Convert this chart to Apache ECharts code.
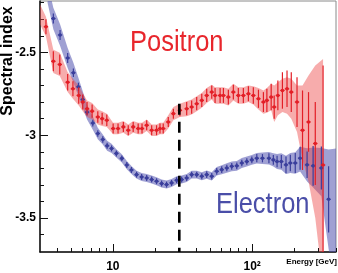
<!DOCTYPE html>
<html><head><meta charset="utf-8">
<script src="https://cdn.jsdelivr.net/npm/echarts@6/dist/echarts.min.js"></script>
<style>html,body{margin:0;padding:0;background:#fff}#c{width:338px;height:273px}</style>
</head><body><div id="c"></div>
<script>
// ---- Positron (red) ----
const rE=[3.31,3.74,4.16,4.74,5.17,5.69,6.08,6.53,7.10,7.80, 8.38,9.05,10.05,10.9,11.9,12.9,14.0,15.2,16.2,17.5, 19.0,20.6,21.8,23.0,25.0,27.2,30.3,33.9,36.8,40.0, 43.5,47.2,51.3,54.2,58.9,62.2,67.5,73.3,79.6,86.5, 94.0,102,111,120.5,127.6,137,144,153,165,178, 191,210,230,254,284,323];
const rV=[-2.345,-2.554,-2.573,-2.68,-2.72,-2.76,-2.80,-2.84,-2.855,-2.89, -2.90,-2.91,-2.96,-2.96,-2.95,-2.97,-2.95,-2.96,-2.96,-2.94, -2.97,-2.97,-2.96,-2.96,-2.92,-2.87,-2.85,-2.84,-2.83,-2.81, -2.79,-2.76,-2.74,-2.76,-2.76,-2.76,-2.77,-2.74,-2.76,-2.76, -2.75,-2.76,-2.78,-2.80,-2.79,-2.77,-2.83,-2.76,-2.73,-2.72, -2.74,-2.80,-2.97,-2.92,-3.05,-3.18];
const rErr=[0.045,0.06,0.06,0.05,0.045,0.05,0.045,0.04,0.04,0.035, 0.035,0.035,0.03,0.03,0.03,0.03,0.03,0.03,0.03,0.03, 0.03,0.03,0.03,0.03,0.03,0.03,0.035,0.04,0.04,0.04, 0.04,0.04,0.04,0.045,0.045,0.045,0.045,0.045,0.045,0.045, 0.045,0.05,0.055,0.06,0.07,0.08,0.07,0.09,0.11,0.11, 0.12,0.15,0.24,0.18,0.25,0.6];
const rUp=[0.06,0.07,0.07,0.06,0.06,0.06,0.055,0.05,0.05,0.045, 0.045,0.04,0.035,0.035,0.035,0.035,0.035,0.035,0.035,0.035, 0.035,0.035,0.035,0.035,0.04,0.04,0.04,0.045,0.045,0.045, 0.045,0.045,0.045,0.05,0.05,0.05,0.05,0.05,0.05,0.05, 0.05,0.055,0.065,0.07,0.075,0.08,0.13,0.08,0.07,0.07, 0.08,0.10,0.27,0.28,0.47,0.64];
const rDn=[0.06,0.07,0.07,0.06,0.06,0.06,0.055,0.05,0.05,0.045, 0.045,0.04,0.035,0.035,0.035,0.035,0.035,0.035,0.035,0.035, 0.035,0.035,0.035,0.035,0.04,0.04,0.04,0.045,0.045,0.045, 0.045,0.045,0.045,0.05,0.05,0.05,0.05,0.05,0.05,0.05, 0.05,0.055,0.065,0.07,0.075,0.08,0.09,0.12,0.13,0.15, 0.16,0.18,0.18,0.36,0.45,0.72];
// red band edge values at its low-energy start [E, upper, lower]
const rBandStart=[3.0,-2.21,-2.33];
// ---- Electron (blue) ----
const bE=[3.74,4.18,4.74,5.21,5.66,6.08,6.53,7.18,7.80,8.47, 9.10,9.79,10.6,11.6,12.6,13.6,14.8,16.1,17.5,19.0, 20.6,22.4,24.3,26.4,28.7,31.2,33.9,36.8,40.0,43.5, 47.2,51.3,55.7,60.5,65.8,71.4,77.6,84.3,91.6,99.5, 108,118.6,132,142,151,162,175,188,204,221, 248,274,314,354];
const bV=[-2.296,-2.395,-2.534,-2.623,-2.708,-2.785,-2.861,-2.927,-2.99,-3.026, -3.064,-3.08,-3.11,-3.14,-3.18,-3.21,-3.238,-3.252,-3.258,-3.268, -3.278,-3.292,-3.298,-3.288,-3.272,-3.268,-3.258,-3.238,-3.238,-3.248, -3.238,-3.248,-3.218,-3.208,-3.198,-3.188,-3.185,-3.168,-3.159,-3.149, -3.139,-3.139,-3.139,-3.149,-3.159,-3.159,-3.179,-3.168,-3.168,-3.139, -3.179,-3.185,-3.198,-3.387];
const bErr=[0.03,0.03,0.03,0.025,0.025,0.025,0.02,0.02,0.02,0.02, 0.018,0.018,0.018,0.018,0.018,0.018,0.018,0.018,0.018,0.018, 0.018,0.018,0.018,0.018,0.018,0.018,0.018,0.018,0.018,0.018, 0.02,0.02,0.02,0.02,0.02,0.02,0.02,0.02,0.02,0.02, 0.025,0.025,0.03,0.03,0.035,0.04,0.05,0.05,0.06,0.07, 0.08,0.12,0.13,0.2];
const bUp=[0.065,0.065,0.06,0.06,0.055,0.05,0.045,0.04,0.035,0.03, 0.03,0.028,0.025,0.025,0.025,0.024,0.024,0.024,0.024,0.024, 0.024,0.024,0.024,0.024,0.024,0.024,0.024,0.024,0.024,0.024, 0.025,0.025,0.026,0.027,0.028,0.029,0.03,0.03,0.03,0.03, 0.032,0.035,0.038,0.04,0.045,0.05,0.055,0.06,0.065,0.07, 0.1,0.11,0.12,0.3];
const bDn=[0.065,0.065,0.06,0.06,0.055,0.05,0.045,0.04,0.035,0.03, 0.03,0.028,0.025,0.025,0.025,0.024,0.024,0.024,0.024,0.024, 0.024,0.024,0.024,0.024,0.024,0.024,0.024,0.024,0.024,0.024, 0.025,0.025,0.026,0.027,0.028,0.029,0.03,0.03,0.03,0.03, 0.032,0.035,0.038,0.04,0.045,0.05,0.055,0.06,0.065,0.08, 0.1,0.13,0.17,0.3];
// blue band edge values at its start and end [E, upper, lower]
const bBandStart=[3.4,-2.08,-2.20];
const bBandEnd=[400,-3.08,-3.95];
// ---- axes ----
const xMajorE=[10,100];
const xMajorLabels=['10','10\u00B2'];
const xMinorE=[4,5,6,7,8,9,20,30,40,50,60,70,80,90,200,300,400];
const yMajor=[-3.5,-3,-2.5];
const yMinor=[-3.6,-3.5,-3.4,-3.3,-3.2,-3.1,-3.0,-2.9,-2.8,-2.7,-2.6,-2.5,-2.4,-2.3,-2.2];
const xMinE=3, xMaxE=400, yMin=-3.705, yMax=-2.19;
const dashE=30, dashTop=-2.81;

const lg=Math.log10;
const RED='#e31e26', BLUE='#3a3e9c';

function band(E,V,up,dn,color,z,start,end){
  return {type:'custom',clip:true,z:z,silent:true,encode:{x:0,y:1},
    data:[[lg(E[0]),V[0]]],
    renderItem:function(p,api){
      const hi=[],lo=[];
      if(start){hi.push(api.coord([lg(start[0]),start[1]]));lo.push(api.coord([lg(start[0]),start[2]]));}
      for(let i=0;i<E.length;i++){hi.push(api.coord([lg(E[i]),V[i]+up[i]]));lo.push(api.coord([lg(E[i]),V[i]-dn[i]]));}
      if(end){hi.push(api.coord([lg(end[0]),end[1]]));lo.push(api.coord([lg(end[0]),end[2]]));}
      return {type:'polygon',shape:{points:hi.concat(lo.reverse())},style:{fill:color}};
    }};
}
function errs(E,V,err,color,z){
  return {type:'custom',clip:true,z:z,silent:true,encode:{x:0,y:1},
    data:E.map((e,i)=>[lg(e),V[i],err[i]]),
    renderItem:function(p,api){
      const x=api.value(0),v=api.value(1),e=api.value(2);
      const a=api.coord([x,v+e]),b=api.coord([x,v-e]),c=api.coord([x,v]);
      return {type:'group',children:[
        {type:'line',shape:{x1:a[0],y1:a[1],x2:b[0],y2:b[1]},style:{stroke:color,lineWidth:1.2}},
        {type:'line',shape:{x1:c[0]-2.2,y1:c[1],x2:c[0]+2.2,y2:c[1]},style:{stroke:color,lineWidth:1.2}},
        {type:'circle',shape:{cx:c[0],cy:c[1],r:1.8},style:{fill:color}}
      ]};
    }};
}
const labelFont={fontFamily:'Liberation Sans',fontWeight:'bold',fontSize:12,color:'#000'};
const chart=echarts.init(document.getElementById('c'),null,{renderer:'canvas'});
chart.setOption({
  animation:false,
  grid:{left:40,right:2,top:1,bottom:21,show:true,borderColor:'#8a8a8a',borderWidth:1,backgroundColor:'transparent'},
  xAxis:[
    {type:'value',min:lg(xMinE),max:lg(xMaxE),splitLine:{show:false},
     axisLine:{show:true,lineStyle:{color:'#111',width:1.5}},
     axisTick:{show:true,inside:true,length:8,customValues:xMajorE.map(lg),lineStyle:{color:'#111',width:1}},
     axisLabel:{customValues:xMajorE.map(lg),margin:9,...labelFont,
       formatter:function(v){const i=xMajorE.findIndex(e=>Math.abs(lg(e)-v)<1e-6);return i>=0?xMajorLabels[i]:'';}}},
    {type:'value',min:lg(xMinE),max:lg(xMaxE),splitLine:{show:false},position:'bottom',
     axisLine:{show:false},axisLabel:{show:false},
     axisTick:{show:true,inside:true,length:4,customValues:xMinorE.map(lg),lineStyle:{color:'#111',width:1}}}
  ],
  yAxis:[
    {type:'value',min:yMin,max:yMax,splitLine:{show:false},
     axisLine:{show:true,lineStyle:{color:'#111',width:1.5}},
     axisTick:{show:true,inside:true,length:8,customValues:yMajor,lineStyle:{color:'#111',width:1}},
     axisLabel:{customValues:yMajor,margin:4,...labelFont,formatter:function(v){return String(v);}}},
    {type:'value',min:yMin,max:yMax,splitLine:{show:false},position:'left',
     axisLine:{show:false},axisLabel:{show:false},
     axisTick:{show:true,inside:true,length:4,customValues:yMinor,lineStyle:{color:'#111',width:1}}}
  ],
  series:[
    band(bE,bV,bUp,bDn,'rgba(80,82,175,0.55)',1,bBandStart,bBandEnd),
    band(rE,rV,rUp,rDn,'rgba(238,70,70,0.45)',2,rBandStart,null),
    errs(bE,bV,bErr,BLUE,3),
    errs(rE,rV,rErr,RED,4),
    {type:'custom',clip:true,z:5,silent:true,encode:{x:0,y:1},data:[[lg(dashE),dashTop]],
     renderItem:function(p,api){
       const a=api.coord([api.value(0),api.value(1)]),b=api.coord([api.value(0),yMin]);
       return {type:'line',shape:{x1:a[0],y1:a[1],x2:b[0],y2:b[1]},style:{stroke:'#000',lineWidth:2.6,lineDash:[11,7]}};
     }}
  ],
  graphic:[
    {type:'text',x:8,y:61,rotation:Math.PI/2,silent:true,
     style:{text:'Spectral index',font:'bold 16px "Liberation Sans"',fill:'#000',align:'center',verticalAlign:'middle'}},
    {type:'text',x:337,y:262,silent:true,
     style:{text:'Energy [GeV]',font:'bold 8px "Liberation Sans"',fill:'#000',align:'right',verticalAlign:'middle'}},
    {type:'text',x:130,y:28,scaleX:0.85,silent:true,
     style:{text:'Positron',font:'30px "Liberation Sans"',fill:'#e8262c',align:'left',verticalAlign:'top'}},
    {type:'text',x:216,y:190,scaleX:0.85,silent:true,
     style:{text:'Electron',font:'30px "Liberation Sans"',fill:'#4a4ea8',align:'left',verticalAlign:'top'}}
  ]
});
</script></body></html>
